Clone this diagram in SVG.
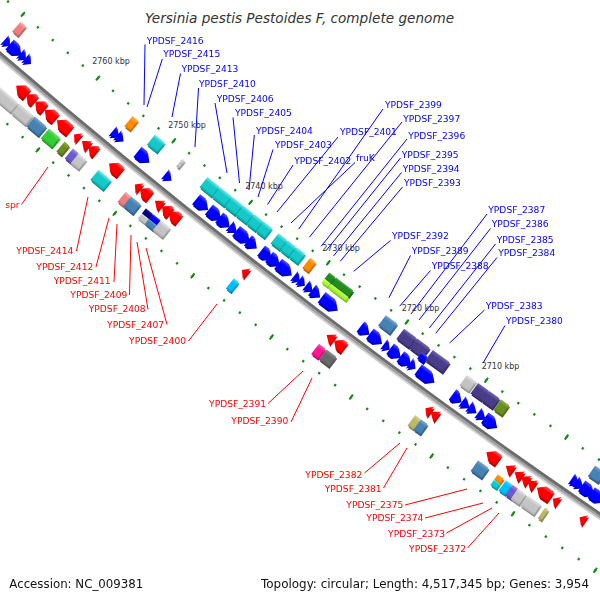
<svg xmlns="http://www.w3.org/2000/svg" width="600" height="600" viewBox="0 0 600 600">
<style>
.title{font-family:"DejaVu Sans",sans-serif;font-style:italic;font-size:13.5px;fill:#333}
.foot{font-family:"DejaVu Sans",sans-serif;font-size:12.2px;fill:#111}
.gl{font-family:"DejaVu Sans",sans-serif;font-size:9.15px}
.bl{fill:#0000ff}
.rl{fill:#ff0000;text-anchor:end}
.kb{font-family:"DejaVu Sans",sans-serif;font-size:8px;fill:#333;text-anchor:middle}
.lb{stroke:#0000ff;stroke-width:1;fill:none}
.lr{stroke:#ff0000;stroke-width:1;fill:none}
.tk{fill:none;stroke:#178a17}
.b{fill:url(#gB)}.r{fill:url(#gR)}.c{fill:url(#gC)}.sb{fill:url(#gSB)}.lg{fill:url(#gLG)}.or{fill:url(#gOr)}
.lm{fill:url(#gLm)}.ol{fill:url(#gOl)}.sl{fill:url(#gSl)}.ds{fill:url(#gDS)}.lc{fill:url(#gLc)}.dp{fill:url(#gDp)}
.dg{fill:url(#gDg)}.kh{fill:url(#gKh)}.dsk{fill:url(#gDsk)}.nv{fill:url(#gNv)}.dt{fill:url(#gDt)}.fg{fill:url(#gFg)}.gy{fill:url(#gGy)}
</style>
<defs>
<filter id="ext" filterUnits="userSpaceOnUse" x="0" y="0" width="600" height="600">
<feOffset in="SourceGraphic" dx="0.6" dy="2.2" result="o"/>
<feComponentTransfer in="o" result="d"><feFuncR type="linear" slope="0.62"/><feFuncG type="linear" slope="0.62"/><feFuncB type="linear" slope="0.62"/></feComponentTransfer>
<feMerge><feMergeNode in="d"/><feMergeNode in="SourceGraphic"/></feMerge>
</filter>
<linearGradient id="gB"><stop offset="0" stop-color="#5252ff"/><stop offset=".3" stop-color="#0000ff"/><stop offset=".8" stop-color="#0000ff"/><stop offset="1" stop-color="#0000cc"/></linearGradient>
<linearGradient id="gR"><stop offset="0" stop-color="#ff5a5a"/><stop offset=".3" stop-color="#ff0000"/><stop offset=".8" stop-color="#ff0000"/><stop offset="1" stop-color="#cc0000"/></linearGradient>
<linearGradient id="gC"><stop offset="0" stop-color="#70eaea"/><stop offset=".3" stop-color="#12c8c8"/><stop offset=".8" stop-color="#12c8c8"/><stop offset="1" stop-color="#0ea4a4"/></linearGradient>
<linearGradient id="gSB"><stop offset="0" stop-color="#7aa6cc"/><stop offset=".3" stop-color="#4682b4"/><stop offset=".8" stop-color="#4682b4"/><stop offset="1" stop-color="#386a94"/></linearGradient>
<linearGradient id="gLG"><stop offset="0" stop-color="#e4e4e4"/><stop offset=".3" stop-color="#c4c4c4"/><stop offset=".8" stop-color="#c4c4c4"/><stop offset="1" stop-color="#a8a8a8"/></linearGradient>
<linearGradient id="gOr"><stop offset="0" stop-color="#ffb050"/><stop offset=".3" stop-color="#ff8c00"/><stop offset=".8" stop-color="#ff8c00"/><stop offset="1" stop-color="#d87600"/></linearGradient>
<linearGradient id="gLm"><stop offset="0" stop-color="#70e070"/><stop offset=".3" stop-color="#32cd32"/><stop offset=".8" stop-color="#32cd32"/><stop offset="1" stop-color="#28a828"/></linearGradient>
<linearGradient id="gOl"><stop offset="0" stop-color="#93b04a"/><stop offset=".3" stop-color="#6b8e23"/><stop offset=".8" stop-color="#6b8e23"/><stop offset="1" stop-color="#58761c"/></linearGradient>
<linearGradient id="gSl"><stop offset="0" stop-color="#9a8ee0"/><stop offset=".3" stop-color="#6a5acd"/><stop offset=".8" stop-color="#6a5acd"/><stop offset="1" stop-color="#5748a8"/></linearGradient>
<linearGradient id="gDS"><stop offset="0" stop-color="#7268b0"/><stop offset=".3" stop-color="#483d8b"/><stop offset=".8" stop-color="#483d8b"/><stop offset="1" stop-color="#3a3172"/></linearGradient>
<linearGradient id="gLc"><stop offset="0" stop-color="#f8aaaa"/><stop offset=".3" stop-color="#f08080"/><stop offset=".8" stop-color="#f08080"/><stop offset="1" stop-color="#cc6c6c"/></linearGradient>
<linearGradient id="gDp"><stop offset="0" stop-color="#ff5cb4"/><stop offset=".3" stop-color="#ff1493"/><stop offset=".8" stop-color="#ff1493"/><stop offset="1" stop-color="#d8107c"/></linearGradient>
<linearGradient id="gDg"><stop offset="0" stop-color="#8c8c8c"/><stop offset=".3" stop-color="#696969"/><stop offset=".8" stop-color="#696969"/><stop offset="1" stop-color="#575757"/></linearGradient>
<linearGradient id="gKh"><stop offset="0" stop-color="#d8d398"/><stop offset=".3" stop-color="#bdb76b"/><stop offset=".8" stop-color="#bdb76b"/><stop offset="1" stop-color="#a09b5a"/></linearGradient>
<linearGradient id="gDsk"><stop offset="0" stop-color="#55d4ff"/><stop offset=".3" stop-color="#00bfff"/><stop offset=".8" stop-color="#00bfff"/><stop offset="1" stop-color="#00a0d6"/></linearGradient>
<linearGradient id="gNv"><stop offset="0" stop-color="#2a2aa0"/><stop offset=".3" stop-color="#000080"/><stop offset=".8" stop-color="#000080"/><stop offset="1" stop-color="#00006a"/></linearGradient>
<linearGradient id="gDt"><stop offset="0" stop-color="#50e0e2"/><stop offset=".3" stop-color="#00ced1"/><stop offset=".8" stop-color="#00ced1"/><stop offset="1" stop-color="#00aaac"/></linearGradient>
<linearGradient id="gFg"><stop offset="0" stop-color="#4aa84a"/><stop offset=".3" stop-color="#228b22"/><stop offset=".8" stop-color="#228b22"/><stop offset="1" stop-color="#1c741c"/></linearGradient>
<linearGradient id="gGy"><stop offset="0" stop-color="#c8ff70"/><stop offset=".5" stop-color="#adff2f"/><stop offset="1" stop-color="#94dc28"/></linearGradient>
<polygon id="bt6" points="-6.5,3 6.5,3 0,-3"/>
<polygon id="bt7" points="-6.5,3.5 6.5,3.5 0,-3.5"/>
<polygon id="bt8" points="-6.5,4 6.5,4 0,-4"/>
<polygon id="bp9" points="-6.5,4.5 6.5,4.5 6.5,2.5 0,-4.5 -6.5,2.5"/>
<polygon id="bp10" points="-6.5,5 6.5,5 6.5,2 0,-5 -6.5,2"/>
<polygon id="bp12" points="-6.5,6 6.5,6 6.5,1 0,-6 -6.5,1"/>
<polygon id="bp14" points="-6.5,7 6.5,7 6.5,0 0,-7 -6.5,0"/>
<polygon id="bp16" points="-6.5,8 6.5,8 6.5,-1 0,-8 -6.5,-1"/>
<polygon id="bp19" points="-6.5,9.5 6.5,9.5 6.5,-2.5 0,-9.5 -6.5,-2.5"/>
<polygon id="rt6" points="-6.5,-3 6.5,-3 0,3"/>
<polygon id="rt8" points="-6.5,-4 6.5,-4 0,4"/>
<polygon id="rp9" points="-6.5,-4.5 6.5,-4.5 6.5,-2.5 0,4.5 -6.5,-2.5"/>
<polygon id="rp10" points="-6.5,-5 6.5,-5 6.5,-2 0,5 -6.5,-2"/>
<polygon id="rp11" points="-6.5,-5.5 6.5,-5.5 6.5,-1.5 0,5.5 -6.5,-1.5"/>
<polygon id="rp12" points="-6.5,-6 6.5,-6 6.5,-1 0,6 -6.5,-1"/>
<polygon id="rp13" points="-6.5,-6.5 6.5,-6.5 6.5,-0.5 0,6.5 -6.5,-0.5"/>
<polygon id="rp14" points="-6.5,-7 6.5,-7 6.5,0 0,7 -6.5,0"/>
<polygon id="rp16" points="-6.5,-8 6.5,-8 6.5,1 0,8 -6.5,1"/>
</defs>
<rect width="600" height="600" fill="#fff"/>
<text class="title" x="145" y="22.5" textLength="309" lengthAdjust="spacingAndGlyphs">Yersinia pestis Pestoides F, complete genome</text>

<g id="backbone" transform="translate(4436.5,-5101.3)">
<circle r="6805.2" fill="none" stroke="#d0d0d0" stroke-width="1.6"/>
<circle r="6803.2" fill="none" stroke="#a2a2a2" stroke-width="2.4"/>
<circle r="6800.6" fill="none" stroke="#6c6c6c" stroke-width="3"/>
<g id="ticks-inner" transform="rotate(132.455)">
<path class="tk" d="M6756.5,0 A6756.5,6756.5 0 0 0 6683.57,-990.03" stroke-width="2.4" stroke-dasharray="2.2 17.483" stroke-dashoffset="1.1"/>
<path class="tk" d="M6756.5,0 A6756.5,6756.5 0 0 0 6683.57,-990.03" stroke-width="6" stroke-dasharray="2 96.417" stroke-dashoffset="1"/>
</g>
<g id="ticks-outer" transform="rotate(132.455)">
<path class="tk" d="M6850,0 A6850,6850 0 0 0 6776.06,-1003.73" stroke-width="2.4" stroke-dasharray="2.2 17.756" stroke-dashoffset="1.1"/>
<path class="tk" d="M6850,0 A6850,6850 0 0 0 6776.06,-1003.73" stroke-width="6" stroke-dasharray="2 97.781" stroke-dashoffset="1"/>
</g>
</g>

<g id="kbp-labels">
<text class="kb" x="111" y="64.2">2760 kbp</text>
<text class="kb" x="187" y="127.6">2750 kbp</text>
<text class="kb" x="264" y="189.2">2740 kbp</text>
<text class="kb" x="341" y="250.8">2730 kbp</text>
<text class="kb" x="420.5" y="310.8">2720 kbp</text>
<text class="kb" x="500.5" y="368.5">2710 kbp</text>
</g>

<g id="connectors">
<path class="lb" d="M145,44.5L144,105"/>
<path class="lb" d="M162.3,59L147,107"/>
<path class="lb" d="M180.5,73.5L172,117"/>
<path class="lb" d="M198.5,88L195,147"/>
<path class="lb" d="M215,103L227,173"/>
<path class="lb" d="M233,117.5L239.5,183"/>
<path class="lb" d="M254.3,135L249,190"/>
<path class="lb" d="M273,149.5L258,197"/>
<path class="lb" d="M293,165L267.5,204.6"/>
<path class="lb" d="M338,137L277,212"/>
<path class="lb" d="M355,162.5L291,223"/>
<path class="lb" d="M383,109L298.7,229.1"/>
<path class="lb" d="M402,122L309.3,237.3"/>
<path class="lb" d="M407,139L321.1,246.4"/>
<path class="lb" d="M400.5,158L326.3,250.4"/>
<path class="lb" d="M401.5,172.5L333.5,255.9"/>
<path class="lb" d="M402.5,187L340.3,261.2"/>
<path class="lb" d="M390.5,240.5L353.7,271.3"/>
<path class="lb" d="M410.5,255.5L388.9,297.8"/>
<path class="lb" d="M430.5,270.5L399.7,306.2"/>
<path class="lb" d="M487,214L411,314"/>
<path class="lb" d="M490.5,228.5L419,320"/>
<path class="lb" d="M495.5,244L429.3,328"/>
<path class="lb" d="M497,257.5L435.7,333.3"/>
<path class="lb" d="M484.5,310L449.7,342.9"/>
<path class="lb" d="M505,325.5L483,363"/>
<path class="lr" d="M21.5,204.5L48,167"/>
<path class="lr" d="M76.5,251L88,197"/>
<path class="lr" d="M96,267L109,218"/>
<path class="lr" d="M114,282L117,224"/>
<path class="lr" d="M129.5,295L131,235"/>
<path class="lr" d="M148,309.5L137,242"/>
<path class="lr" d="M167,324.5L146,248"/>
<path class="lr" d="M188.5,341L217,304"/>
<path class="lr" d="M268,403.5L303,371"/>
<path class="lr" d="M291,422L312,378"/>
<path class="lr" d="M364.5,473L400,443"/>
<path class="lr" d="M383.5,488L407,448"/>
<path class="lr" d="M405,505L467,489"/>
<path class="lr" d="M425,518L483,503"/>
<path class="lr" d="M446.5,533L492,508"/>
<path class="lr" d="M467.5,548L499,513"/>
</g>

<g filter="url(#ext)">
<g id="features" transform="translate(4436.5,-5101.3)">
<g id="f-b1" transform="rotate(130.737) translate(6788,0)"><use href="#bt6" class="b"/></g>
<g id="f-b2" transform="rotate(130.646) translate(6788,0)"><use href="#bp14" class="b"/></g>
<g id="f-b3" transform="rotate(130.560) translate(6788,0)"><use href="#bt6" class="b"/></g>
<g id="f-b4" transform="rotate(130.504) translate(6788,0)"><use href="#bt6" class="b"/></g>
<g id="YPDSF_2416" transform="rotate(129.539) translate(6788,0)"><use href="#bt7" class="b"/></g>
<g id="YPDSF_2415" transform="rotate(129.488) translate(6788,0)"><use href="#bt7" class="b"/></g>
<g id="YPDSF_2413" transform="rotate(129.236) translate(6788,0)"><use href="#bp14" class="b"/></g>
<g id="YPDSF_2410" transform="rotate(128.966) translate(6788,0)"><use href="#bt7" class="b"/></g>
<g id="YPDSF_2406" transform="rotate(128.600) translate(6788,0)"><use href="#bp14" class="b"/></g>
<g id="YPDSF_2405" transform="rotate(128.462) translate(6788,0)"><use href="#bp14" class="b"/></g>
<g id="YPDSF_2404" transform="rotate(128.359) translate(6788,0)"><use href="#bp12" class="b"/></g>
<g id="YPDSF_2403" transform="rotate(128.263) translate(6788,0)"><use href="#bt8" class="b"/></g>
<g id="YPDSF_2402" transform="rotate(128.161) translate(6788,0)"><use href="#bp16" class="b"/></g>
<g id="YPDSF_2401" transform="rotate(128.059) translate(6788,0)"><use href="#bp10" class="b"/></g>
<g id="fruK" transform="rotate(127.909) translate(6788,0)"><use href="#bp12" class="b"/></g>
<g id="YPDSF_2399" transform="rotate(127.824) translate(6788,0)"><use href="#bp12" class="b"/></g>
<g id="YPDSF_2397" transform="rotate(127.711) translate(6788,0)"><use href="#bp16" class="b"/></g>
<g id="YPDSF_2396" transform="rotate(127.584) translate(6788,0)"><use href="#bt6" class="b"/></g>
<g id="YPDSF_2395" transform="rotate(127.529) translate(6788,0)"><use href="#bt6" class="b"/></g>
<g id="YPDSF_2394" transform="rotate(127.451) translate(6788,0)"><use href="#bt7" class="b"/></g>
<g id="YPDSF_2393" transform="rotate(127.379) translate(6788,0)"><use href="#bp9" class="b"/></g>
<g id="YPDSF_2392" transform="rotate(127.235) translate(6788,0)"><use href="#bp19" class="b"/></g>
<g id="YPDSF_2389" transform="rotate(126.862) translate(6788,0)"><use href="#bp10" class="b"/></g>
<g id="YPDSF_2388" transform="rotate(126.746) translate(6788,0)"><use href="#bp14" class="b"/></g>
<g id="YPDSF_2387" transform="rotate(126.632) translate(6788,0)"><use href="#bt6" class="b"/></g>
<g id="YPDSF_2386" transform="rotate(126.541) translate(6788,0)"><use href="#bp12" class="b"/></g>
<g id="YPDSF_2385" transform="rotate(126.433) translate(6788,0)"><use href="#bp12" class="b"/></g>
<g id="YPDSF_2384" transform="rotate(126.361) translate(6788,0)"><use href="#bt6" class="b"/></g>
<g id="YPDSF_2383" transform="rotate(126.217) translate(6788,0)"><use href="#bp19" class="b"/></g>
<g id="YPDSF_2380" transform="rotate(125.896) translate(6788,0)"><use href="#bp10" class="b"/></g>
<g id="f-b5" transform="rotate(125.805) translate(6788,0)"><use href="#bt8" class="b"/></g>
<g id="f-b6" transform="rotate(125.732) translate(6788,0)"><use href="#bt8" class="b"/></g>
<g id="f-b7" transform="rotate(125.639) translate(6788,0)"><use href="#bt8" class="b"/></g>
<g id="f-b8" transform="rotate(125.544) translate(6788,0)"><use href="#bp14" class="b"/></g>
<g id="f-b9" transform="rotate(124.673) translate(6788,0)"><use href="#bt8" class="b"/></g>
<g id="f-b10" transform="rotate(124.629) translate(6788,0)"><use href="#bt8" class="b"/></g>
<g id="f-b11" transform="rotate(124.544) translate(6788,0)"><use href="#bp14" class="b"/></g>
<g id="f-b12" transform="rotate(124.446) translate(6788,0)"><use href="#bp14" class="b"/></g>
<g id="f-i1" transform="rotate(130.730) translate(6770,0)"><rect class="lc" x="-6.5" y="-3.5" width="13" height="7"/></g>
<g id="f-i2" transform="rotate(129.490) translate(6770,0)"><rect class="or" x="-6.5" y="-3.5" width="13" height="7"/></g>
<g id="f-i3" transform="rotate(129.220) translate(6770,0)"><rect class="c" x="-6.5" y="-6.25" width="13" height="12.5"/></g>
<g id="f-i4" transform="rotate(128.951) translate(6770,0)"><rect class="lg" x="-5" y="-1.5" width="10" height="3"/></g>
<g id="f-i5" transform="rotate(128.637) translate(6770,0)"><rect class="c" x="-6.5" y="-7.5" width="13" height="15"/></g>
<g id="f-i6" transform="rotate(128.503) translate(6770,0)"><rect class="c" x="-6.5" y="-7.5" width="13" height="15"/></g>
<g id="f-i7" transform="rotate(128.376) translate(6770,0)"><rect class="c" x="-6.5" y="-6.5" width="13" height="13"/></g>
<g id="f-i8" transform="rotate(128.258) translate(6770,0)"><rect class="c" x="-6.5" y="-6.5" width="13" height="13"/></g>
<g id="f-i9" transform="rotate(128.149) translate(6770,0)"><rect class="c" x="-6.5" y="-5.5" width="13" height="11"/></g>
<g id="f-i10" transform="rotate(128.050) translate(6770,0)"><rect class="c" x="-6.5" y="-5.25" width="13" height="10.5"/></g>
<g id="f-i11" transform="rotate(127.888) translate(6770,0)"><rect class="c" x="-6.5" y="-5.5" width="13" height="11"/></g>
<g id="f-i12" transform="rotate(127.791) translate(6770,0)"><rect class="c" x="-6.5" y="-5" width="13" height="10"/></g>
<g id="f-i13" transform="rotate(127.695) translate(6770,0)"><rect class="c" x="-6.5" y="-5.3" width="13" height="10.6"/></g>
<g id="f-i14" transform="rotate(127.566) translate(6770,0)"><rect class="or" x="-6.5" y="-3.5" width="13" height="7"/></g>
<g id="f-i15" transform="rotate(127.359) translate(6770,0)"><rect class="fg" x="-6.5" y="-3.75" width="8" height="7.5"/><rect class="gy" x="1.5" y="-3.75" width="5" height="7.5"/></g>
<g id="f-i16" transform="rotate(127.228) translate(6770,0)"><rect class="fg" x="-6.5" y="-10.75" width="8" height="21.5"/><rect class="gy" x="1.5" y="-10.75" width="5" height="21.5"/></g>
<g id="f-i17" transform="rotate(126.731) translate(6770,0)"><rect class="sb" x="-6.5" y="-7" width="13" height="14"/></g>
<g id="f-i18" transform="rotate(126.535) translate(6770,0)"><rect class="ds" x="-6.5" y="-7.5" width="13" height="15"/></g>
<g id="f-i19" transform="rotate(126.396) translate(6770,0)"><rect class="ds" x="-6.5" y="-8" width="13" height="16"/></g>
<g id="f-i20" transform="rotate(126.329) translate(6776,0)"><rect class="b" x="-4" y="-3.5" width="8" height="7"/></g>
<g id="f-i21" transform="rotate(126.207) translate(6770,0)"><rect class="ds" x="-6.5" y="-10.5" width="13" height="21"/></g>
<g id="f-i22" transform="rotate(125.890) translate(6770,0)"><rect class="lg" x="-6.5" y="-5.5" width="13" height="11"/></g>
<g id="f-i23" transform="rotate(125.766) translate(6770,0)"><rect class="ds" x="-6.5" y="-6.5" width="13" height="13"/></g>
<g id="f-i24" transform="rotate(125.653) translate(6770,0)"><rect class="ds" x="-6.5" y="-6.5" width="13" height="13"/></g>
<g id="f-i25" transform="rotate(125.540) translate(6770,0)"><rect class="ol" x="-6.5" y="-5" width="13" height="10"/></g>
<g id="f-i26" transform="rotate(124.556) translate(6770,0)"><rect class="sb" x="-6.5" y="-6" width="13" height="12"/></g>
<g id="f-r1" transform="rotate(130.382) translate(6815,0)"><use href="#rp13" class="r"/></g>
<g id="f-r2" transform="rotate(130.282) translate(6815,0)"><use href="#rp10" class="r"/></g>
<g id="f-r3" transform="rotate(130.182) translate(6815,0)"><use href="#rp11" class="r"/></g>
<g id="f-r4" transform="rotate(130.067) translate(6815,0)"><use href="#rp13" class="r"/></g>
<g id="f-r5" transform="rotate(129.921) translate(6815,0)"><use href="#rp16" class="r"/></g>
<g id="spr" transform="rotate(129.776) translate(6815,0)"><use href="#rt6" class="r"/></g>
<g id="f-r7" transform="rotate(129.681) translate(6815,0)"><use href="#rt8" class="r"/></g>
<g id="f-r8" transform="rotate(129.605) translate(6815,0)"><use href="#rp9" class="r"/></g>
<g id="YPDSF_2414" transform="rotate(129.360) translate(6815,0)"><use href="#rp14" class="r"/></g>
<g id="YPDSF_2412" transform="rotate(129.113) translate(6815,0)"><use href="#rt6" class="r"/></g>
<g id="YPDSF_2411" transform="rotate(129.033) translate(6815,0)"><use href="#rp12" class="r"/></g>
<g id="YPDSF_2409" transform="rotate(128.888) translate(6815,0)"><use href="#rt8" class="r"/></g>
<g id="YPDSF_2408" transform="rotate(128.804) translate(6815,0)"><use href="#rp10" class="r"/></g>
<g id="YPDSF_2407" transform="rotate(128.720) translate(6815,0)"><use href="#rp12" class="r"/></g>
<g id="YPDSF_2400" transform="rotate(127.962) translate(6815,0)"><use href="#rt6" class="r"/></g>
<g id="YPDSF_2391" transform="rotate(127.056) translate(6815,0)"><use href="#rt8" class="r"/></g>
<g id="YPDSF_2390" transform="rotate(126.960) translate(6815,0)"><use href="#rp12" class="r"/></g>
<g id="YPDSF_2382" transform="rotate(126.030) translate(6815,0)"><use href="#rt6" class="r"/></g>
<g id="YPDSF_2381" transform="rotate(125.967) translate(6815,0)"><use href="#rt8" class="r"/></g>
<g id="YPDSF_2375" transform="rotate(125.365) translate(6815,0)"><use href="#rp14" class="r"/></g>
<g id="YPDSF_2374" transform="rotate(125.190) translate(6815,0)"><use href="#rt8" class="r"/></g>
<g id="YPDSF_2373" transform="rotate(125.099) translate(6815,0)"><use href="#rt8" class="r"/></g>
<g id="YPDSF_2372" transform="rotate(125.031) translate(6815,0)"><use href="#rt8" class="r"/></g>
<g id="f-r9" transform="rotate(124.966) translate(6815,0)"><use href="#rt8" class="r"/></g>
<g id="f-r10" transform="rotate(124.836) translate(6815,0)"><use href="#rp16" class="r"/></g>
<g id="f-r11" transform="rotate(124.716) translate(6815,0)"><use href="#rt6" class="r"/></g>
<g id="f-r12" transform="rotate(124.442) translate(6815,0)"><use href="#rt6" class="r"/></g>
<g id="f-o1" transform="rotate(130.609) translate(6833,0)"><rect class="lg" x="-6.5" y="-33.5" width="13" height="67"/></g>
<g id="f-o2" transform="rotate(130.242) translate(6833,0)"><rect class="lg" x="-6.5" y="-9" width="13" height="18"/></g>
<g id="f-o3" transform="rotate(130.087) translate(6833,0)"><rect class="sb" x="-6.5" y="-7.5" width="13" height="15"/></g>
<g id="f-o4" transform="rotate(129.935) translate(6833,0)"><rect class="lm" x="-6.5" y="-7" width="13" height="14"/></g>
<g id="f-o5" transform="rotate(129.798) translate(6833,0)"><rect class="ol" x="-6.5" y="-3" width="13" height="6"/></g>
<g id="f-o6" transform="rotate(129.701) translate(6833,0)"><rect class="sl" x="-6.5" y="-3.75" width="13" height="7.5"/></g>
<g id="f-o7" transform="rotate(129.627) translate(6833,0)"><rect class="lg" x="-6.5" y="-5" width="13" height="10"/></g>
<g id="f-o8" transform="rotate(129.386) translate(6833,0)"><rect class="c" x="-6.5" y="-8" width="13" height="16"/></g>
<g id="f-o9" transform="rotate(129.131) translate(6833,0)"><rect class="lc" x="-6.5" y="-3.5" width="13" height="7"/></g>
<g id="f-o10" transform="rotate(129.048) translate(6833,0)"><rect class="sb" x="-6.5" y="-6" width="13" height="12"/></g>
<g id="f-o11" transform="rotate(128.903) translate(6833,0)"><rect class="nv" x="-6.5" y="-4.5" width="6.5" height="9"/><rect class="lg" x="0" y="-4.5" width="6.5" height="9"/></g>
<g id="f-o12" transform="rotate(128.823) translate(6833,0)"><rect class="b" x="-6.5" y="-5" width="6.5" height="10"/><rect class="sb" x="0" y="-5" width="6.5" height="10"/></g>
<g id="f-o13" transform="rotate(128.730) translate(6833,0)"><rect class="lg" x="-6.5" y="-6" width="13" height="12"/></g>
<g id="f-o14" transform="rotate(127.973) translate(6833,0)"><rect class="dsk" x="-6.5" y="-3" width="13" height="6"/></g>
<g id="f-o15" transform="rotate(127.063) translate(6833,0)"><rect class="dp" x="-6.5" y="-4" width="13" height="8"/></g>
<g id="f-o16" transform="rotate(126.965) translate(6833,0)"><rect class="dg" x="-6.5" y="-6" width="13" height="12"/></g>
<g id="f-o17" transform="rotate(126.062) translate(6833,0)"><rect class="kh" x="-6.5" y="-3.5" width="13" height="7"/></g>
<g id="f-o18" transform="rotate(125.996) translate(6833,0)"><rect class="sb" x="-6.5" y="-4" width="13" height="8"/></g>
<g id="f-o19" transform="rotate(125.386) translate(6833,0)"><rect class="sb" x="-6.5" y="-6.5" width="13" height="13"/></g>
<g id="f-o20" transform="rotate(125.208) translate(6833,0)"><rect class="or" x="-6.5" y="-3.5" width="6.5" height="7"/><rect class="dt" x="0" y="-3.5" width="6.5" height="7"/></g>
<g id="f-o21" transform="rotate(125.122) translate(6833,0)"><rect class="dsk" x="-6.5" y="-3.75" width="13" height="7.5"/></g>
<g id="f-o22" transform="rotate(125.058) translate(6833,0)"><rect class="sl" x="-6.5" y="-3.25" width="13" height="6.5"/></g>
<g id="f-o23" transform="rotate(124.989) translate(6833,0)"><rect class="lg" x="-6.5" y="-5" width="13" height="10"/></g>
<g id="f-o24" transform="rotate(124.863) translate(6833,0)"><rect class="lg" x="-6.5" y="-8" width="13" height="16"/></g>
<g id="f-o25" transform="rotate(124.736) translate(6833,0)"><rect class="kh" x="-6.5" y="-2" width="13" height="4"/></g>
</g>
</g>

<g id="gene-labels" class="gl">
<text class="bl" x="146.7" y="43.5">YPDSF_2416</text>
<text class="bl" x="163.3" y="56.8">YPDSF_2415</text>
<text class="bl" x="181.5" y="72">YPDSF_2413</text>
<text class="bl" x="199" y="86.8">YPDSF_2410</text>
<text class="bl" x="216.7" y="101.8">YPDSF_2406</text>
<text class="bl" x="235" y="116.1">YPDSF_2405</text>
<text class="bl" x="256" y="133.5">YPDSF_2404</text>
<text class="bl" x="275" y="147.8">YPDSF_2403</text>
<text class="bl" x="294.3" y="163.5">YPDSF_2402</text>
<text class="bl" x="340" y="135.1">YPDSF_2401</text>
<text class="bl" x="356" y="160.8">fruK</text>
<text class="bl" x="385" y="107.5">YPDSF_2399</text>
<text class="bl" x="403.3" y="121.8">YPDSF_2397</text>
<text class="bl" x="408.3" y="138.5">YPDSF_2396</text>
<text class="bl" x="401.7" y="157.5">YPDSF_2395</text>
<text class="bl" x="402.7" y="171.8">YPDSF_2394</text>
<text class="bl" x="404" y="185.8">YPDSF_2393</text>
<text class="bl" x="392" y="239.1">YPDSF_2392</text>
<text class="bl" x="411.7" y="254.1">YPDSF_2389</text>
<text class="bl" x="431.7" y="269.1">YPDSF_2388</text>
<text class="bl" x="488.3" y="212.5">YPDSF_2387</text>
<text class="bl" x="491.7" y="226.8">YPDSF_2386</text>
<text class="bl" x="496.7" y="242.5">YPDSF_2385</text>
<text class="bl" x="498.3" y="255.8">YPDSF_2384</text>
<text class="bl" x="485.7" y="308.5">YPDSF_2383</text>
<text class="bl" x="506" y="324.1">YPDSF_2380</text>
<text class="rl" x="19.5" y="207.5">spr</text>
<text class="rl" x="73.3" y="253.5">YPDSF_2414</text>
<text class="rl" x="93.3" y="269.5">YPDSF_2412</text>
<text class="rl" x="110.7" y="284.1">YPDSF_2411</text>
<text class="rl" x="127.3" y="297.5">YPDSF_2409</text>
<text class="rl" x="145.7" y="311.8">YPDSF_2408</text>
<text class="rl" x="164" y="327.5">YPDSF_2407</text>
<text class="rl" x="186" y="344.1">YPDSF_2400</text>
<text class="rl" x="266" y="407">YPDSF_2391</text>
<text class="rl" x="288.3" y="423.5">YPDSF_2390</text>
<text class="rl" x="362.3" y="477.5">YPDSF_2382</text>
<text class="rl" x="381.7" y="491.8">YPDSF_2381</text>
<text class="rl" x="403.3" y="507.5">YPDSF_2375</text>
<text class="rl" x="423.3" y="521.1">YPDSF_2374</text>
<text class="rl" x="445" y="536.8">YPDSF_2373</text>
<text class="rl" x="466" y="551.8">YPDSF_2372</text>
</g>

<text class="foot" x="9.3" y="587.5" textLength="134" lengthAdjust="spacingAndGlyphs">Accession: NC_009381</text>
<text class="foot" x="261" y="587.5" textLength="328" lengthAdjust="spacingAndGlyphs">Topology: circular; Length: 4,517,345 bp; Genes: 3,954</text>
</svg>
